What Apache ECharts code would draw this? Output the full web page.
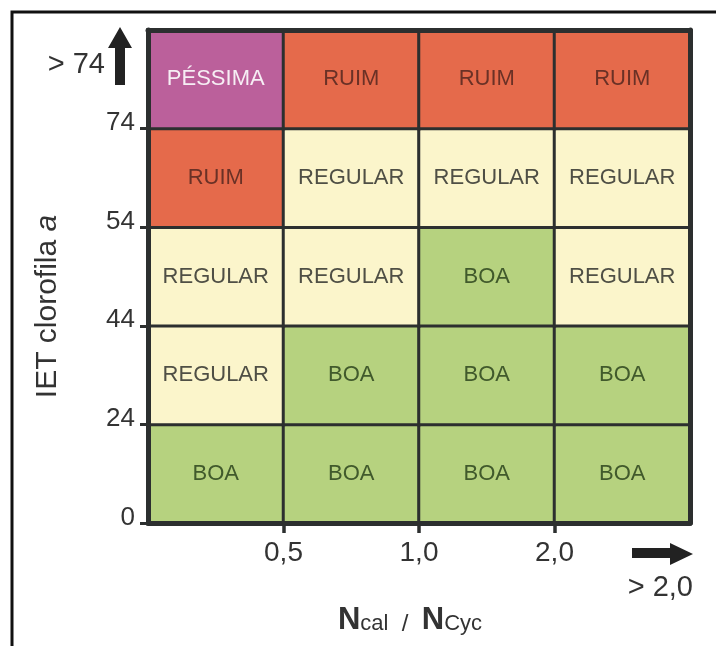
<!DOCTYPE html>
<html><head><meta charset="utf-8">
<script src="https://cdn.jsdelivr.net/npm/echarts@6/dist/echarts.min.js"></script>
<style>html,body{margin:0;padding:0;background:#fff}#c{width:716px;height:646px}</style>
</head><body><div id="c"></div>
<script>
// ---- data ----
var colCats = ['≤0,5', '0,5–1,0', '1,0–2,0', '>2,0'];
var rowCats = ['0–24', '24–44', '44–54', '54–74', '>74'];
var xTickLabels = ['', '0,5', '1,0', '2,0', ''];
var yTickLabels = ['0', '24', '44', '54', '74', ''];
// classes per row (bottom -> top), per column (left -> right)
var row0 = ['BOA', 'BOA', 'BOA', 'BOA'];
var row1 = ['REGULAR', 'BOA', 'BOA', 'BOA'];
var row2 = ['REGULAR', 'REGULAR', 'BOA', 'REGULAR'];
var row3 = ['RUIM', 'REGULAR', 'REGULAR', 'REGULAR'];
var row4 = ['PÉSSIMA', 'RUIM', 'RUIM', 'RUIM'];
var classes = ['BOA', 'REGULAR', 'RUIM', 'PÉSSIMA'];
var classColors = {'BOA': '#b6d27f', 'REGULAR': '#fbf5cb', 'RUIM': '#e56a4b', 'PÉSSIMA': '#bb609b'};
var classText = {'BOA': '#415a2c', 'REGULAR': '#4f4f45', 'RUIM': '#6a3126', 'PÉSSIMA': '#f6eef4'};

var rows = [row0, row1, row2, row3, row4];
var data = [];
rows.forEach(function (r, yi) {
  r.forEach(function (c, xi) {
    data.push({
      value: [xi, yi, classes.indexOf(c)],
      name: c,
      itemStyle: {color: classColors[c]},
      label: {color: classText[c]}
    });
  });
});

var chart = echarts.init(document.getElementById('c'), null, {renderer: 'canvas'});
var lineCol = '#2c2f2f';
var FF = 'Liberation Sans';
chart.setOption({
  animation: false,
  backgroundColor: '#fff',
  grid: {left: 148, right: 26, top: 30, bottom: 123},
  xAxis: [
    {type: 'category', data: colCats, gridIndex: 0, show: false},
    {type: 'value', min: 0, max: 4, interval: 1, position: 'bottom', z: 5,
     axisLine: {show: true, lineStyle: {color: lineCol, width: 5}},
     axisTick: {show: true, customValues: [1, 2, 3], length: 10, lineStyle: {color: lineCol, width: 3.5}},
     axisLabel: {show: true, customValues: [1, 2, 3], margin: 16, fontFamily: FF, fontSize: 28, color: '#333',
       formatter: function (v) { return xTickLabels[Math.round(v)]; }},
     splitLine: {show: false},
     name: '{b|N}{s|cal}{m|  /  }{b|N}{s|Cyc}', nameLocation: 'middle', nameGap: 82,
     nameTextStyle: {padding: [0, 18, 0, 0], rich: {
       b: {fontFamily: FF, fontWeight: 'bold', fontSize: 31, color: '#333', verticalAlign: 'bottom'},
       s: {fontFamily: FF, fontSize: 22, color: '#333', verticalAlign: 'bottom', padding: [0, 0, 1, 0]},
       m: {fontFamily: FF, fontSize: 24, color: '#333', verticalAlign: 'bottom'}
     }}},
    {type: 'value', min: 0, max: 4, position: 'top', z: 5,
     axisLine: {show: true, lineStyle: {color: lineCol, width: 5}},
     axisTick: {show: false}, axisLabel: {show: false}, splitLine: {show: false}}
  ],
  yAxis: [
    {type: 'category', data: rowCats, gridIndex: 0, show: false},
    {type: 'value', min: 0, max: 5, interval: 1, position: 'left', z: 5,
     axisLine: {show: true, lineStyle: {color: lineCol, width: 5}},
     axisTick: {show: true, customValues: [0, 1, 2, 3, 4], length: 8, lineStyle: {color: lineCol, width: 3}},
     axisLabel: {show: true, customValues: [0, 1, 2, 3, 4], margin: 13, fontFamily: FF, fontSize: 26, color: '#333',
       verticalAlign: 'bottom', lineHeight: 11,
       formatter: function (v) { return yTickLabels[Math.round(v)]; }},
     splitLine: {show: false},
     name: '{n|IET clorofila }{i|a}', nameLocation: 'middle', nameGap: 84, nameRotate: 90,
     nameTextStyle: {padding: [0, 60, 0, 0], rich: {
       n: {fontFamily: FF, fontSize: 30, color: '#333', lineHeight: 32},
       i: {fontFamily: FF, fontSize: 30, fontStyle: 'italic', color: '#333', lineHeight: 32}
     }}},
    {type: 'value', min: 0, max: 5, position: 'right', z: 5,
     axisLine: {show: true, lineStyle: {color: lineCol, width: 5}},
     axisTick: {show: false}, axisLabel: {show: false}, splitLine: {show: false}}
  ],
  series: [{
    type: 'heatmap', xAxisIndex: 0, yAxisIndex: 0,
    data: data,
    itemStyle: {borderColor: lineCol, borderWidth: 3},
    label: {show: true, formatter: function (p) { return p.name; },
      fontFamily: FF, fontSize: 22}
  }],
  graphic: [
    {type: 'rect', shape: {x: 12, y: 12, width: 760, height: 700}, style: {fill: 'none', stroke: '#111', lineWidth: 3}, z: 10},
    {type: 'text', style: {x: 105, y: 65, text: '> 74', align: 'right', verticalAlign: 'middle', font: '29px "Liberation Sans"', fill: '#333'}, z: 10},
    {type: 'polygon', shape: {points: [[115, 85], [115, 48], [108, 48], [120, 27], [132, 48], [125, 48], [125, 85]]},
     style: {fill: '#222'}, z: 10},
    {type: 'polygon', shape: {points: [[632, 548], [670, 548], [670, 543], [693, 554], [670, 565], [670, 558], [632, 558]]},
     style: {fill: '#222'}, z: 10},
    {type: 'text', style: {x: 693, y: 588, text: '> 2,0', align: 'right', verticalAlign: 'middle', font: '29px "Liberation Sans"', fill: '#333'}, z: 10}
  ]
});
</script></body></html>
